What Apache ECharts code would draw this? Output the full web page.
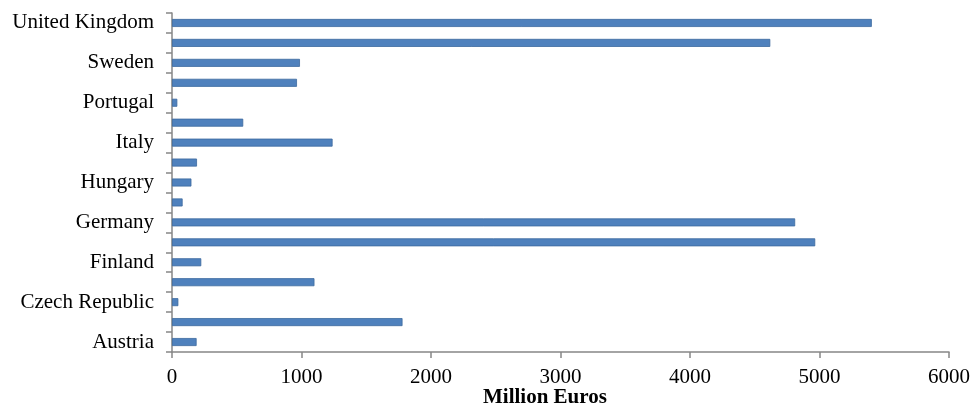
<!DOCTYPE html>
<html>
<head>
<meta charset="utf-8">
<script src="https://cdn.jsdelivr.net/npm/echarts@6/dist/echarts.min.js"></script>
<style>
html,body{margin:0;padding:0;background:#fff;}
#chart{width:973px;height:404px;}
</style>
</head>
<body>
<div id="chart"></div>
<script>
const categories = ["Austria","Belgium","Czech Republic","Denmark","Finland","France","Germany","Greece","Hungary","Ireland","Italy","Netherlands","Portugal","Spain","Sweden","Switzerland","United Kingdom"];
const values = [190,1780,49,1100,226,4967,4812,82,150,193,1240,550,41,965,988,4620,5404];
const xTicks = {min:0,max:6000,interval:1000};
const axisTitle = "Million Euros";

const chart = echarts.init(document.getElementById('chart'), null, {renderer:'canvas'});
chart.setOption({
  animation:false,
  backgroundColor:'#ffffff',
  textStyle:{fontFamily:'Liberation Serif'},
  title:{
    text:axisTitle,
    left:483, top:389,
    padding:0,
    textStyle:{fontFamily:'Liberation Serif',fontSize:21,fontWeight:'bold',color:'#000',lineHeight:18}
  },
  grid:{left:172,right:23,top:13,bottom:52,containLabel:false},
  xAxis:{
    type:'value',
    min:xTicks.min,max:xTicks.max,interval:xTicks.interval,
    axisLine:{show:true,lineStyle:{color:'#868686',width:1.5}},
    axisTick:{show:true,length:6,lineStyle:{color:'#868686',width:1.5}},
    splitLine:{show:false},
    axisLabel:{color:'#000',fontSize:21,fontFamily:'Liberation Serif',margin:15,formatter:function(v){return String(v);}}
  },
  yAxis:{
    type:'category',
    data:categories,
    axisLine:{show:true,lineStyle:{color:'#868686',width:1.5}},
    axisTick:{show:true,length:6,interval:0,alignWithLabel:false,lineStyle:{color:'#868686',width:1.5}},
    axisLabel:{interval:1,color:'#000',fontSize:21,fontFamily:'Liberation Serif',margin:18},
    splitLine:{show:false}
  },
  series:[{
    type:'bar',
    data:values,
    barWidth:8,
    itemStyle:{color:'#4F81BD',borderColor:'#3C6A9E',borderWidth:0.8}
  }]
});
</script>
</body>
</html>
